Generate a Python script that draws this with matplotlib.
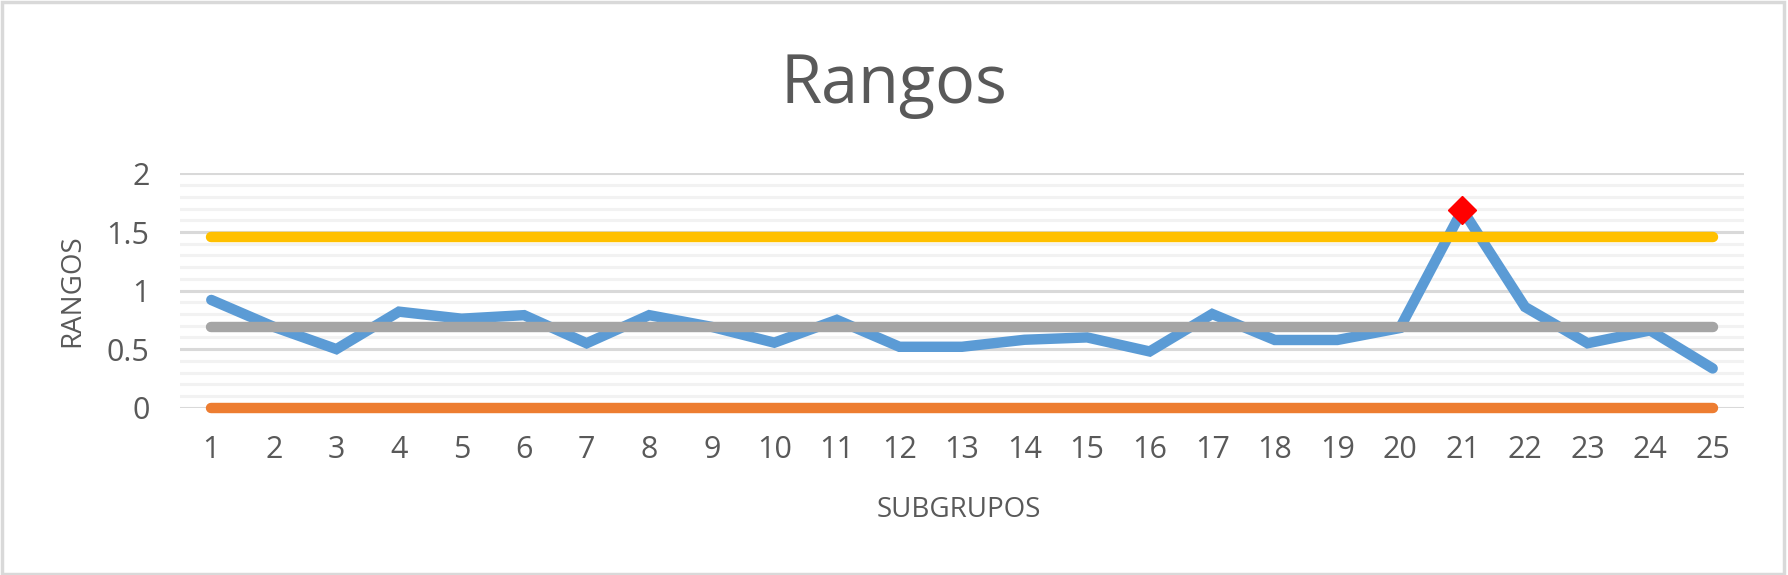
import matplotlib.pyplot as plt
from matplotlib.patches import Rectangle

subgrupos = list(range(1, 26))
rangos = [0.92, 0.69, 0.50, 0.82, 0.76, 0.79, 0.55, 0.79, 0.69, 0.555,
          0.75, 0.52, 0.52, 0.58, 0.60, 0.48, 0.80, 0.578, 0.578, 0.68,
          1.69, 0.86, 0.55, 0.66, 0.335]
lc = [0.69] * 25
lcs = [1.459] * 25
lci = [0.0] * 25
fuera = [21]  # subgrupo fuera de control

plt.rcParams['font.family'] = ['Open Sans', 'DejaVu Sans']
txt = '#595959'

fig = plt.figure(figsize=(17.88, 5.75), dpi=100)
ax = fig.add_axes([0.10067, 0.2910, 0.8747, 0.4073])

ax.plot(subgrupos, rangos, color='#5B9BD5', lw=7.5, solid_capstyle='round',
        solid_joinstyle='miter', zorder=3, clip_on=False)
ax.plot(subgrupos, lci, color='#ED7D31', lw=7.5, solid_capstyle='round', zorder=4, clip_on=False)
ax.plot(subgrupos, lc, color='#A5A5A5', lw=7.5, solid_capstyle='round', zorder=5, clip_on=False)
ax.plot(subgrupos, lcs, color='#FFC000', lw=7.5, solid_capstyle='round', zorder=6, clip_on=False)
ax.plot(fuera, [rangos[i - 1] for i in fuera], 'D', color='red', ms=14, zorder=7, clip_on=False)

ax.set_xlim(0.5, 25.5)
ax.set_ylim(0, 2)
ax.set_xticks(subgrupos)
ax.set_yticks([0, 0.5, 1, 1.5, 2])
ax.set_yticklabels(['0', '0.5', '1', '1.5', '2'])
ax.set_yticks([i / 10 for i in range(21)], minor=True)
ax.grid(axis='y', which='minor', color='#F2F2F2', lw=2.2, zorder=0)
ax.grid(axis='y', which='major', color='#D9D9D9', lw=2.2, zorder=1)
ax.tick_params(axis='both', which='both', length=0, labelsize=22, colors=txt)
ax.tick_params(axis='y', pad=22)
ax.tick_params(axis='x', pad=20)
for s in ax.spines.values():
    s.set_visible(False)

fig.text(0.5, 0.8209, 'Rangos', ha='center', va='baseline', fontsize=48, color=txt)
fig.text(0.5363, 0.1009, 'SUBGRUPOS', ha='center', va='baseline', fontsize=20, color=txt)
fig.text(0.0403, 0.4939, 'RANGOS', ha='center', va='center', rotation=90, fontsize=20, color=txt)

fig.patches.append(Rectangle((0.001, 0.002), 0.997, 0.995, transform=fig.transFigure,
                             fill=False, edgecolor='#D9D9D9', lw=2.5))

fig.savefig('out.png', dpi=100)
